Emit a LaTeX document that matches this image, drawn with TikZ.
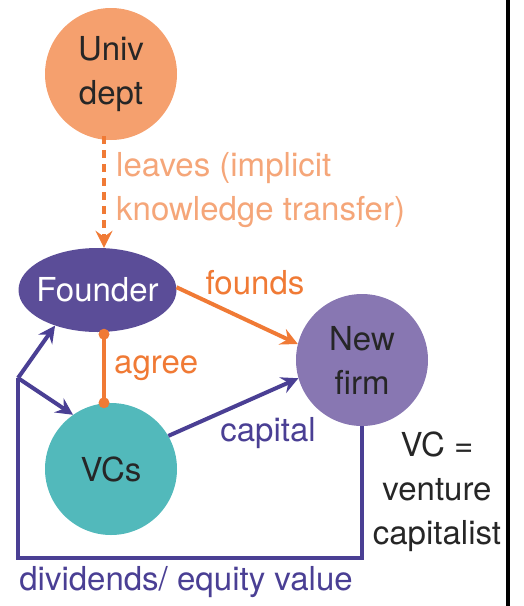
\documentclass[tikz,border=0pt]{standalone}
\usepackage{fontspec}
\setmainfont{TeX Gyre Heros}
\usetikzlibrary{arrows.meta,shapes.geometric}
\definecolor{univfill}{HTML}{F5A06E}
\definecolor{orln}{HTML}{F07A35}
\definecolor{ortx}{HTML}{F5A679}
\definecolor{foundfill}{HTML}{5B4D98}
\definecolor{firmfill}{HTML}{8877B2}
\definecolor{vcfill}{HTML}{52B9BB}
\definecolor{puln}{HTML}{4A3F94}
\begin{document}
\begin{tikzpicture}[x=1pt,y=-1pt,
	every node/.style={font=\fontsize{33}{44}\selectfont,inner sep=0pt},
	actor/.style={circle,minimum size=132pt,align=center,text=black!85},
	orflow/.style={draw=orln,line width=4pt,-{Stealth[length=17pt,width=17pt,inset=6pt]}},
	puflow/.style={draw=puln,line width=4pt,-{Stealth[length=17pt,width=17pt,inset=6pt]}},
	dot/.style={circle,fill=orln,minimum size=11pt}]
	\useasboundingbox (0,0) rectangle (523,606);
	\draw[line width=4pt] (508,0) -- (508,606);
	\node[actor,fill=univfill] (ud) at (111,74) {Univ\\dept};
	\node[ellipse,fill=foundfill,inner xsep=-10pt,minimum width=158pt,minimum height=84pt,text=white] (fo) at (97.5,290) {Founder};
	\node[actor,fill=firmfill] (nf) at (362,360) {New\\firm};
	\node[actor,fill=vcfill] (vc) at (111,469) {VCs};
	\draw[orflow,dash pattern=on 8pt off 6pt] ([xshift=-7pt,yshift=4pt]ud.south) -- ([xshift=6.5pt]fo.north);
	\node[text=ortx,anchor=west,align=left] (lv) at (116,190) {leaves (implicit\\knowledge transfer)};
	\draw[orflow] (fo.2) -- (nf.166);
	\node[text=orln] (fd) at (255,283) {founds};
	\draw[draw=orln,line width=4pt] ([xshift=6.5pt,yshift=-2pt]fo.south) node[dot] (ag1) {} -- ([xshift=-7pt]vc.north) node[dot] (ag2) {};
	\node[text=orln,anchor=west] (ag) at (114,368) {agree};
	\draw[puflow] (vc.30) -- (nf.196);
	\node[text=puln] (cp) at (268,433) {capital};
	\coordinate (split) at (18,378);
	\draw[draw=puln,line width=4pt] (nf.south) |- (18,558) -- (split);
	\draw[puflow] (split) -- (fo.220);
	\draw[puflow] (split) -- (vc.125);
	\node[text=puln] (dv) at (186,582) {dividends/ equity value};
	\node[align=center,text=black!85] (key) at (437,492) {VC =\\venture\\capitalist};
\end{tikzpicture}
\end{document}
